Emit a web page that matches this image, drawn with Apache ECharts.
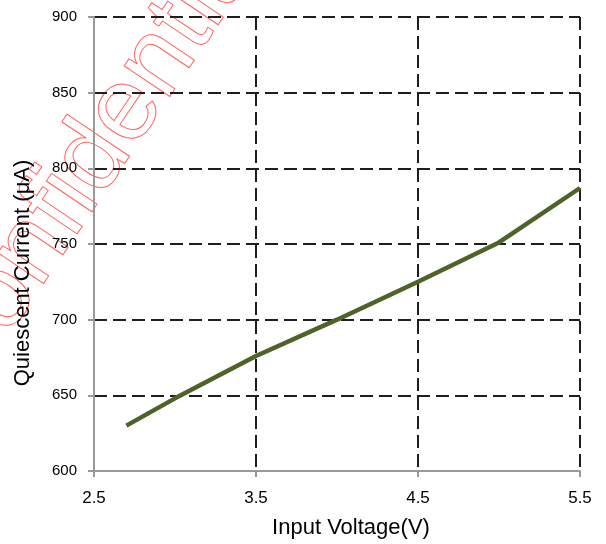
<!DOCTYPE html>
<html>
<head>
<meta charset="utf-8">
<script src="https://cdn.jsdelivr.net/npm/echarts@6/dist/echarts.min.js"></script>
<style>
  html, body { margin: 0; padding: 0; background: #fff; }
  #chart { width: 606px; height: 544px; }
</style>
</head>
<body>
<div id="chart"></div>
<script>
// Input voltage (V) and measured quiescent current (µA)
const voltage = [2.7, 3.0, 3.5, 4.0, 4.5, 5.0, 5.5];
const current = [630, 648, 676, 700, 725, 751, 787];

const xTicks = { min: 2.5, max: 5.5, interval: 1 };
const yTicks = { min: 600, max: 900, interval: 50 };

const FONT = "'Liberation Sans', Arial, sans-serif";
const chart = echarts.init(document.getElementById('chart'), null, { renderer: 'canvas' });

const gridDash = { type: [13, 6], color: '#1e1e1e', width: 2 };

chart.setOption({
  animation: false,
  backgroundColor: '#ffffff',
  grid: { left: 94, right: 26, top: 17, bottom: 71, containLabel: false },
  xAxis: {
    type: 'value',
    min: xTicks.min, max: xTicks.max, interval: xTicks.interval,
    name: 'Input Voltage(V)',
    nameLocation: 'middle',
    nameGap: 46,
    nameTextStyle: { fontFamily: FONT, fontSize: 22, color: '#000', padding: [0, 0, 0, 28] },
    axisLine: { show: true, lineStyle: { color: '#999', width: 2 } },
    axisTick: { show: true, length: 6, lineStyle: { color: '#999', width: 2 } },
    axisLabel: { fontFamily: FONT, fontSize: 17, color: '#000', margin: 19,
      formatter: v => v.toFixed(1) },
    splitLine: { show: true, lineStyle: gridDash }
  },
  yAxis: {
    type: 'value',
    min: yTicks.min, max: yTicks.max, interval: yTicks.interval,
    name: 'Quiescent Current (μA)',
    nameLocation: 'middle',
    nameGap: 60,
    nameTextStyle: { fontFamily: FONT, fontSize: 22, color: '#000', padding: [0, 58, 0, 0] },
    axisLine: { show: true, lineStyle: { color: '#999', width: 2 } },
    axisTick: { show: true, length: 6, lineStyle: { color: '#999', width: 2 } },
    axisLabel: { fontFamily: FONT, fontSize: 15, color: '#000', margin: 17 },
    splitLine: { show: true, lineStyle: gridDash }
  },
  series: [{
    type: 'line',
    data: voltage.map((v, i) => [v, current[i]]),
    showSymbol: false,
    smooth: false,
    lineStyle: { color: '#4f6228', width: 4.5 },
    itemStyle: { color: '#4f6228' },
    z: 5
  }],
  graphic: [{
    type: 'text',
    x: 95, y: 156,
    rotation: 56 * Math.PI / 180,
    z: -10,
    silent: true,
    style: {
      text: 'Confidential',
      fontFamily: FONT,
      fontSize: 104,
      align: 'center',
      verticalAlign: 'middle',
      fill: 'none',
      stroke: 'rgba(255, 30, 30, 0.7)',
      lineWidth: 1
    }
  }]
});
</script>
</body>
</html>
